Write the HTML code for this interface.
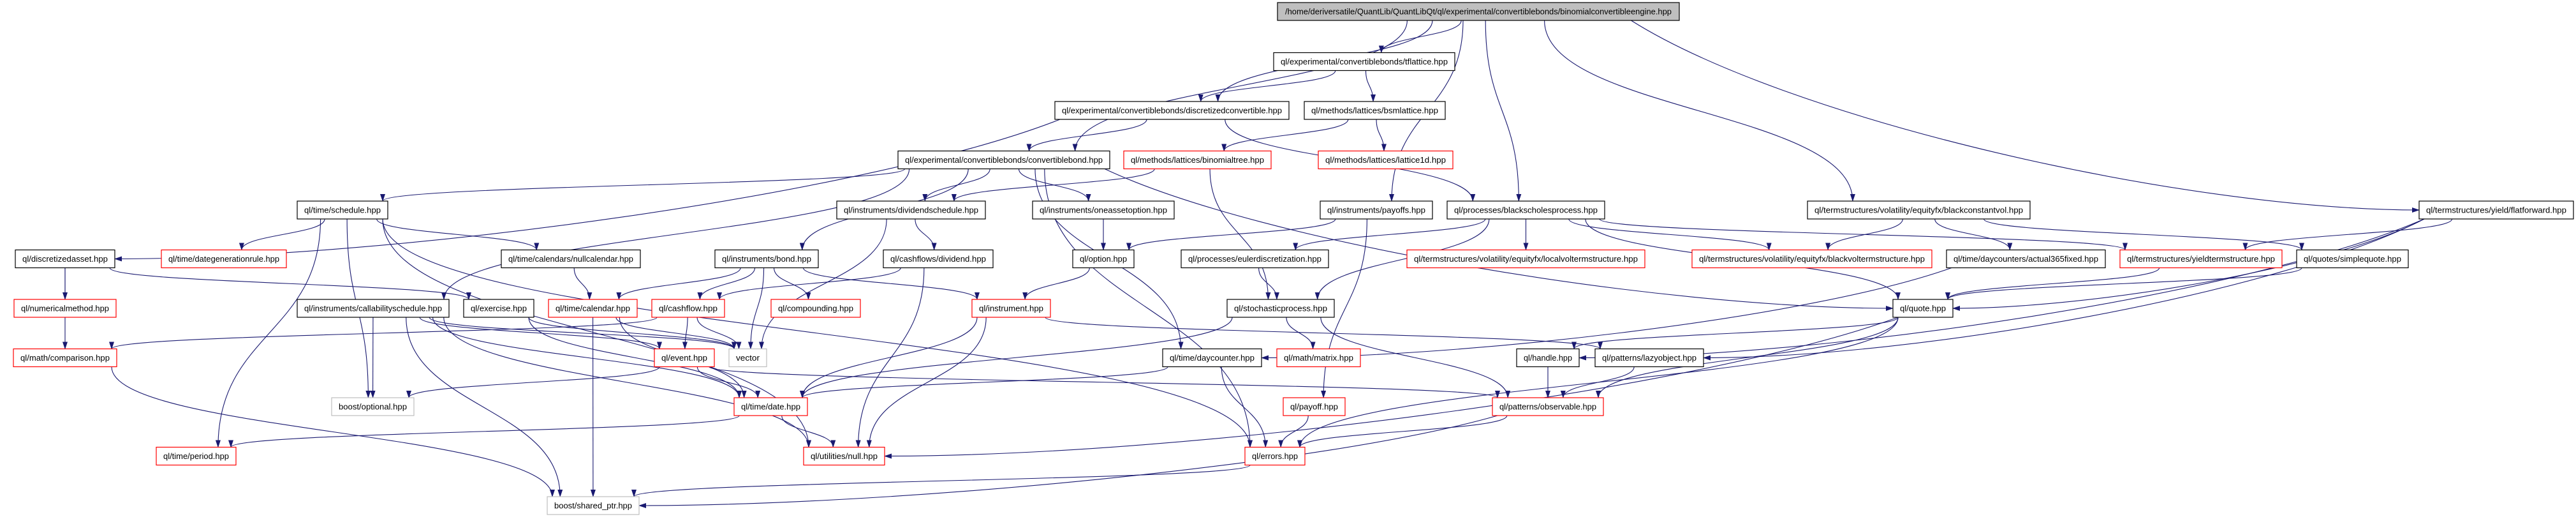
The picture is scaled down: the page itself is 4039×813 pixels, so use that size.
<!DOCTYPE html>
<html><head><meta charset="utf-8"><style>
html,body{margin:0;padding:0;background:#fff;}
svg{display:block;}
text{font-family:"Liberation Sans",sans-serif;font-size:13px;fill:#000;}
rect{stroke-width:1.2;}
.b{fill:#fff;stroke:#000;}
.r{fill:#fff;stroke:#ff0000;}
.g{fill:#fff;stroke:#bfbfbf;}
.t{fill:#bfbfbf;stroke:#000;}
path.e{fill:none;stroke:#191970;stroke-width:1.1;}
</style></head><body>
<svg id="s" width="4039" height="813" viewBox="0 0 4039 813" xmlns="http://www.w3.org/2000/svg">
<defs><marker id="a" markerWidth="12" markerHeight="8" refX="11" refY="4" orient="auto" markerUnits="userSpaceOnUse"><path d="M0,0 L12,4 L0,8 z" fill="#191970"/></marker></defs>
<g id="edges"></g>
<g id="nodes">
<rect id="top" class="t" x="2003" y="4" width="630" height="28"/><text x="2318" y="22.5" text-anchor="middle" textLength="606" lengthAdjust="spacingAndGlyphs">/home/deriversatile/QuantLib/QuantLibQt/ql/experimental/convertiblebonds/binomialconvertibleengine.hpp</text>

<rect id="tfl" class="b" x="1997" y="82.5" width="284" height="28"/><text x="2139" y="101" text-anchor="middle" textLength="262" lengthAdjust="spacingAndGlyphs">ql/experimental/convertiblebonds/tflattice.hpp</text>

<rect id="dconv" class="b" x="1654" y="159" width="367" height="28"/><text x="1837.5" y="177.5" text-anchor="middle" textLength="345" lengthAdjust="spacingAndGlyphs">ql/experimental/convertiblebonds/discretizedconvertible.hpp</text>
<rect id="bsml" class="b" x="2045" y="159" width="221" height="28"/><text x="2155.5" y="177.5" text-anchor="middle" textLength="199" lengthAdjust="spacingAndGlyphs">ql/methods/lattices/bsmlattice.hpp</text>

<rect id="cbond" class="b" x="1408" y="236.5" width="332" height="28"/><text x="1574" y="255" text-anchor="middle" textLength="310" lengthAdjust="spacingAndGlyphs">ql/experimental/convertiblebonds/convertiblebond.hpp</text>
<rect id="btree" class="r" x="1762" y="236.5" width="231" height="28"/><text x="1877.5" y="255" text-anchor="middle" textLength="209" lengthAdjust="spacingAndGlyphs">ql/methods/lattices/binomialtree.hpp</text>
<rect id="l1d" class="r" x="2067" y="236.5" width="211" height="28"/><text x="2172.5" y="255" text-anchor="middle" textLength="189" lengthAdjust="spacingAndGlyphs">ql/methods/lattices/lattice1d.hpp</text>

<rect id="sched" class="b" x="466" y="315" width="142" height="28"/><text x="537" y="333.5" text-anchor="middle" textLength="120" lengthAdjust="spacingAndGlyphs">ql/time/schedule.hpp</text>
<rect id="divs" class="b" x="1312" y="315" width="233" height="28"/><text x="1428.5" y="333.5" text-anchor="middle" textLength="211" lengthAdjust="spacingAndGlyphs">ql/instruments/dividendschedule.hpp</text>
<rect id="oneas" class="b" x="1619" y="315" width="222" height="28"/><text x="1730" y="333.5" text-anchor="middle" textLength="200" lengthAdjust="spacingAndGlyphs">ql/instruments/oneassetoption.hpp</text>
<rect id="payoffs" class="b" x="2070" y="315" width="176" height="28"/><text x="2158" y="333.5" text-anchor="middle" textLength="154" lengthAdjust="spacingAndGlyphs">ql/instruments/payoffs.hpp</text>
<rect id="bsp" class="b" x="2269" y="315" width="247" height="28"/><text x="2392.5" y="333.5" text-anchor="middle" textLength="225" lengthAdjust="spacingAndGlyphs">ql/processes/blackscholesprocess.hpp</text>
<rect id="bcv" class="b" x="2834" y="315" width="349" height="28"/><text x="3008.5" y="333.5" text-anchor="middle" textLength="327" lengthAdjust="spacingAndGlyphs">ql/termstructures/volatility/equityfx/blackconstantvol.hpp</text>
<rect id="ffwd" class="b" x="3793" y="315" width="242" height="28"/><text x="3914" y="333.5" text-anchor="middle" textLength="220" lengthAdjust="spacingAndGlyphs">ql/termstructures/yield/flatforward.hpp</text>

<rect id="dasset" class="b" x="24" y="391.5" width="156" height="28"/><text x="102" y="410" text-anchor="middle" textLength="134" lengthAdjust="spacingAndGlyphs">ql/discretizedasset.hpp</text>
<rect id="dgr" class="r" x="253" y="391.5" width="196" height="28"/><text x="351" y="410" text-anchor="middle" textLength="174" lengthAdjust="spacingAndGlyphs">ql/time/dategenerationrule.hpp</text>
<rect id="nullcal" class="b" x="786" y="391.5" width="218" height="28"/><text x="895" y="410" text-anchor="middle" textLength="196" lengthAdjust="spacingAndGlyphs">ql/time/calendars/nullcalendar.hpp</text>
<rect id="bond" class="b" x="1121" y="391.5" width="162" height="28"/><text x="1202" y="410" text-anchor="middle" textLength="140" lengthAdjust="spacingAndGlyphs">ql/instruments/bond.hpp</text>
<rect id="divd" class="b" x="1385" y="391.5" width="172" height="28"/><text x="1471" y="410" text-anchor="middle" textLength="150" lengthAdjust="spacingAndGlyphs">ql/cashflows/dividend.hpp</text>
<rect id="option" class="b" x="1682" y="391.5" width="96" height="28"/><text x="1730" y="410" text-anchor="middle" textLength="74" lengthAdjust="spacingAndGlyphs">ql/option.hpp</text>
<rect id="euler" class="b" x="1852" y="391.5" width="231" height="28"/><text x="1967.5" y="410" text-anchor="middle" textLength="209" lengthAdjust="spacingAndGlyphs">ql/processes/eulerdiscretization.hpp</text>
<rect id="lvol" class="r" x="2206" y="391.5" width="373" height="28"/><text x="2392.5" y="410" text-anchor="middle" textLength="351" lengthAdjust="spacingAndGlyphs">ql/termstructures/volatility/equityfx/localvoltermstructure.hpp</text>
<rect id="bvol" class="r" x="2653" y="391.5" width="376" height="28"/><text x="2841" y="410" text-anchor="middle" textLength="354" lengthAdjust="spacingAndGlyphs">ql/termstructures/volatility/equityfx/blackvoltermstructure.hpp</text>
<rect id="a365" class="b" x="3052" y="391.5" width="249" height="28"/><text x="3176.5" y="410" text-anchor="middle" textLength="227" lengthAdjust="spacingAndGlyphs">ql/time/daycounters/actual365fixed.hpp</text>
<rect id="yts" class="r" x="3324" y="391.5" width="254" height="28"/><text x="3451" y="410" text-anchor="middle" textLength="232" lengthAdjust="spacingAndGlyphs">ql/termstructures/yieldtermstructure.hpp</text>
<rect id="squote" class="b" x="3601" y="391.5" width="175" height="28"/><text x="3688.5" y="410" text-anchor="middle" textLength="153" lengthAdjust="spacingAndGlyphs">ql/quotes/simplequote.hpp</text>

<rect id="nmeth" class="r" x="22" y="469" width="160" height="28"/><text x="102" y="487.5" text-anchor="middle" textLength="138" lengthAdjust="spacingAndGlyphs">ql/numericalmethod.hpp</text>
<rect id="csched" class="b" x="466" y="469" width="238" height="28"/><text x="585" y="487.5" text-anchor="middle" textLength="216" lengthAdjust="spacingAndGlyphs">ql/instruments/callabilityschedule.hpp</text>
<rect id="exer" class="b" x="727" y="469" width="110" height="28"/><text x="782" y="487.5" text-anchor="middle" textLength="88" lengthAdjust="spacingAndGlyphs">ql/exercise.hpp</text>
<rect id="cal" class="r" x="860" y="469" width="139" height="28"/><text x="929.5" y="487.5" text-anchor="middle" textLength="117" lengthAdjust="spacingAndGlyphs">ql/time/calendar.hpp</text>
<rect id="cf" class="r" x="1022" y="469" width="114" height="28"/><text x="1079" y="487.5" text-anchor="middle" textLength="92" lengthAdjust="spacingAndGlyphs">ql/cashflow.hpp</text>
<rect id="comp" class="r" x="1209" y="469" width="140" height="28"/><text x="1279" y="487.5" text-anchor="middle" textLength="118" lengthAdjust="spacingAndGlyphs">ql/compounding.hpp</text>
<rect id="instr" class="r" x="1524" y="469" width="123" height="28"/><text x="1585.5" y="487.5" text-anchor="middle" textLength="101" lengthAdjust="spacingAndGlyphs">ql/instrument.hpp</text>
<rect id="stoch" class="b" x="1924" y="469" width="168" height="28"/><text x="2008" y="487.5" text-anchor="middle" textLength="146" lengthAdjust="spacingAndGlyphs">ql/stochasticprocess.hpp</text>
<rect id="quote" class="b" x="2968" y="469" width="94" height="28"/><text x="3015" y="487.5" text-anchor="middle" textLength="72" lengthAdjust="spacingAndGlyphs">ql/quote.hpp</text>

<rect id="cmpr" class="r" x="21" y="546.5" width="162" height="28"/><text x="102" y="565" text-anchor="middle" textLength="140" lengthAdjust="spacingAndGlyphs">ql/math/comparison.hpp</text>
<rect id="event" class="r" x="1026" y="546.5" width="94" height="28"/><text x="1073" y="565" text-anchor="middle" textLength="72" lengthAdjust="spacingAndGlyphs">ql/event.hpp</text>
<rect id="vector" class="g" x="1143" y="546.5" width="59" height="28"/><text x="1172.5" y="565" text-anchor="middle" textLength="37" lengthAdjust="spacingAndGlyphs">vector</text>
<rect id="dc" class="b" x="1823" y="546.5" width="155" height="28"/><text x="1900.5" y="565" text-anchor="middle" textLength="133" lengthAdjust="spacingAndGlyphs">ql/time/daycounter.hpp</text>
<rect id="matrix" class="r" x="2002" y="546.5" width="131" height="28"/><text x="2067.5" y="565" text-anchor="middle" textLength="109" lengthAdjust="spacingAndGlyphs">ql/math/matrix.hpp</text>
<rect id="handle" class="b" x="2378" y="546.5" width="98" height="28"/><text x="2427" y="565" text-anchor="middle" textLength="76" lengthAdjust="spacingAndGlyphs">ql/handle.hpp</text>
<rect id="lazy" class="b" x="2501" y="546.5" width="170" height="28"/><text x="2586" y="565" text-anchor="middle" textLength="148" lengthAdjust="spacingAndGlyphs">ql/patterns/lazyobject.hpp</text>

<rect id="opt" class="g" x="520" y="623" width="129" height="28"/><text x="584.5" y="641.5" text-anchor="middle" textLength="107" lengthAdjust="spacingAndGlyphs">boost/optional.hpp</text>
<rect id="date" class="r" x="1151" y="623" width="115" height="28"/><text x="1208.5" y="641.5" text-anchor="middle" textLength="93" lengthAdjust="spacingAndGlyphs">ql/time/date.hpp</text>
<rect id="payoff" class="r" x="2012" y="623" width="97" height="28"/><text x="2060.5" y="641.5" text-anchor="middle" textLength="75" lengthAdjust="spacingAndGlyphs">ql/payoff.hpp</text>
<rect id="obs" class="r" x="2340" y="623" width="174" height="28"/><text x="2427" y="641.5" text-anchor="middle" textLength="152" lengthAdjust="spacingAndGlyphs">ql/patterns/observable.hpp</text>

<rect id="period" class="r" x="245" y="700.5" width="125" height="28"/><text x="307.5" y="719" text-anchor="middle" textLength="103" lengthAdjust="spacingAndGlyphs">ql/time/period.hpp</text>
<rect id="null" class="r" x="1260" y="700.5" width="127" height="28"/><text x="1323.5" y="719" text-anchor="middle" textLength="105" lengthAdjust="spacingAndGlyphs">ql/utilities/null.hpp</text>
<rect id="errors" class="r" x="1952" y="700.5" width="94" height="28"/><text x="1999" y="719" text-anchor="middle" textLength="72" lengthAdjust="spacingAndGlyphs">ql/errors.hpp</text>

<rect id="sptr" class="g" x="858" y="778" width="144" height="28"/><text x="930" y="796.5" text-anchor="middle" textLength="122" lengthAdjust="spacingAndGlyphs">boost/shared_ptr.hpp</text>
</g>
</svg>
<script>
var E=[["top","tfl"],["top","dconv"],["top","cbond"],["top","payoffs"],["top","bsp"],["top","bcv"],["top","ffwd"],
["tfl","dconv"],["tfl","bsml"],["bsml","btree"],["bsml","l1d"],
["dconv","cbond"],["dconv","dasset"],["dconv","bsp"],
["cbond","sched"],["cbond","divs"],["cbond","oneas"],["cbond","bond"],["cbond","csched"],["cbond","dc"],["cbond","quote"],["cbond","errors"],
["btree","divs"],["btree","stoch"],
["sched","dgr"],["sched","nullcal"],["sched","period"],["sched","opt"],["sched","null"],["sched","errors"],
["dasset","nmeth"],["dasset","cmpr"],["dasset","exer"],
["csched","opt"],["csched","vector"],["csched","sptr"],["csched","null"],["csched","event"],["csched","date"],
["nullcal","cal"],["bond","cal"],["bond","cf"],["bond","vector"],["bond","comp"],["bond","instr"],
["divs","divd"],["divs","vector"],["divd","cf"],["divd","null"],
["oneas","option"],["option","instr"],["payoffs","payoff"],["payoffs","option"],
["bsp","euler"],["bsp","stoch"],["bsp","lvol"],["bsp","bvol"],["bsp","yts"],["bsp","quote"],
["bcv","bvol"],["bcv","a365"],["bcv","squote"],
["ffwd","yts"],["ffwd","quote"],["ffwd","lazy"],["ffwd","handle"],
["squote","quote"],["yts","quote"],["a365","dc"],["euler","stoch"],
["stoch","matrix"],["stoch","date"],["stoch","obs"],
["cal","vector"],["cal","date"],["cal","sptr"],
["cf","event"],["cf","vector"],["cf","cmpr"],
["event","date"],["event","obs"],["event","opt"],
["exer","vector"],["exer","date"],
["instr","date"],["instr","null"],["instr","lazy"],
["dc","date"],["dc","errors"],
["quote","handle"],["quote","obs"],["quote","null"],["quote","errors"],
["handle","obs"],["lazy","obs"],["obs","sptr"],["obs","errors"],
["date","null"],["date","period"],["errors","sptr"],["cmpr","sptr"],["payoff","errors"]];
function box(id){var r=document.getElementById(id);var x=+r.getAttribute("x"),y=+r.getAttribute("y"),w=+r.getAttribute("width"),h=+r.getAttribute("height");return {x:x,y:y,w:w,h:h,cx:x+w/2,cy:y+h/2};}
var g=document.getElementById("edges"),out="";
function cl(v,a,b){return Math.max(a,Math.min(b,v));}
E.forEach(function(e){var s=box(e[0]),t=box(e[1]);
var dx=t.cx-s.cx,dy=t.cy-s.cy;
var sx=cl(s.cx+dx*0.15,s.x+8,s.x+s.w-8),sy=s.y+s.h;
var tx,ty,d;
if(Math.abs(dx)>4*dy+200&&dy>80){
 tx=dx<0?t.x+t.w:t.x;ty=t.cy;
 d="M"+sx+","+sy+" C"+(sx+(tx-sx)*0.2)+","+(sy+dy*0.5)+" "+(tx-(tx-sx)*0.3)+","+ty+" "+tx+","+ty;
}else{
 tx=cl(t.cx-dx*0.15,t.x+8,t.x+t.w-8);ty=t.y;
 var m=(ty-sy)*0.5;
 d="M"+sx+","+sy+" C"+sx+","+(sy+m)+" "+tx+","+(ty-m)+" "+tx+","+ty;
}
out+='<path class="e" d="'+d+'" marker-end="url(#a)"/>';});
g.innerHTML=out;
</script>
</body></html>
